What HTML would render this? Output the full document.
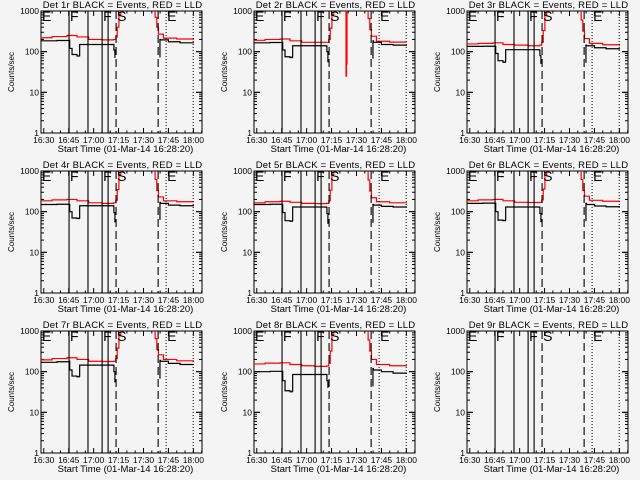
<!DOCTYPE html>
<html><head><meta charset="utf-8"><style>
html,body{margin:0;padding:0;background:#f4f4f4}
svg{display:block}
text{font-family:"Liberation Sans",sans-serif;fill:#000}
</style></head><body>
<svg id="c" width="640" height="480" viewBox="0 0 640 480"></svg>
<script>
// Time in minutes after 16:30
const xMin = -1.67, xMax = 95.2;
const tickLabels = ["16:30","16:45","17:00","17:15","17:30","17:45","18:00"];
const tickMinutes = [0,15,30,45,60,75,90];
const yTickValues = [1,10,100,1000];
const yTickLabels = ["1","10","100","1000"];
const solidLines = [15.2, 26.6, 35.1, 38.7];
const dashedLines = [43.5, 68.8];
const dottedLines = [73.6, 89.9];
const markerLetters = ["E","F","F","S","E"];
const markerTimes = [-1.67, 15.2, 35.1, 43.5, 73.6];
const detectorNames = ["1r","2r","3r","4r","5r","6r","7r","8r","9r"];

// Black (events) before shutter: times and values per detector
const blackTimesA = [-1.67, 8, 15.2, 15.6, 17, 20, 21.4, 21.6, 30, 41.8, 42.2, 42.8];
const blackA = [
 [185,188,190,120,85,78,80,150,150,150,110,70],
 [165,168,170,110,75,72,75,140,140,138,100,55],
 [135,136,135,90,60,55,58,112,112,110,80,50],
 [150,152,150,100,70,68,70,140,140,138,95,55],
 [150,152,150,95,60,58,60,130,130,128,90,50],
 [160,162,160,100,62,60,62,130,130,128,90,55],
 [170,175,180,110,78,75,78,145,145,143,100,55],
 [100,102,102,60,34,32,34,85,85,85,60,40],
 null
];
// Black after shutter
const blackTimesB = [69.6, 69.9, 70.2, 75, 82, 90];
const blackB = [
 [75,200,195,175,165,160],
 [70,185,170,150,145,140],
 [55,145,140,125,118,112],
 [65,170,160,145,140,135],
 [55,150,145,135,130,128],
 [60,160,150,138,132,130],
 [70,190,180,160,150,145],
 [45,120,110,100,92,88],
 null
];
// Red (LLD) series
const redTimes = [-1.67, 5, 14, 20, 27, 35, 42, 43.3, 44.2, 45.2, 46.3, 53.5, 53.7, 54.0, 54.3, 66, 67, 68, 69, 72, 80, 90];
const red = [
 [220,235,250,230,200,195,200,230,400,800,1500,1500,1500,1500,1500,1500,700,400,270,215,205,195],
 [190,200,205,185,170,170,170,200,380,800,1500,1500,25,50,1500,1500,650,350,240,180,172,170],
 [155,160,165,150,145,140,145,170,330,800,1500,1500,1500,1500,1500,1500,600,320,210,160,148,140],
 [185,195,200,185,165,160,165,190,350,800,1500,1500,1500,1500,1500,1500,620,330,230,185,175,170],
 [165,175,180,170,160,158,160,185,340,800,1500,1500,1500,1500,1500,1500,600,320,220,175,165,160],
 [185,195,200,185,170,168,170,195,360,800,1500,1500,1500,1500,1500,1500,620,330,240,190,180,175],
 [195,210,220,200,180,178,180,210,380,800,1500,1500,1500,1500,1500,1500,650,350,260,200,185,175],
 [155,162,165,150,140,135,138,160,320,800,1500,1500,1500,1500,1500,1500,600,320,200,150,140,135],
 null
];

const svg = document.getElementById('c');
const NS = "http://www.w3.org/2000/svg";
function mk(tag, attrs, parent){const e=document.createElementNS(NS,tag);for(const k in attrs)e.setAttribute(k,attrs[k]);(parent||svg).appendChild(e);return e;}

const colLeft = [41,254,467], rowTop = [11,171,331], W = 161, H = 122;

for (let p=0;p<9;p++){
  const L = colLeft[p%3], T = rowTop[Math.floor(p/3)];
  const xs = t => L + (t - xMin) / (xMax - xMin) * W;
  const ys = v => T + H - (Math.log10(v) / 3) * H;
  const g = mk('g',{});
  
  
  const cp = mk('clipPath',{id:'cp'+p}, g);
  mk('rect',{x:L,y:T,width:W,height:H},cp);

  const title = mk('text',{x:L+W/2+1,y:T-3,'font-size':9.5,'text-anchor':'middle','letter-spacing':0.2},g);
  title.textContent = 'Det '+detectorNames[p]+' BLACK = Events, RED = LLD';
  
  

  const box = mk('rect',{x:L,y:T,width:W,height:H,fill:'none',stroke:'#000','stroke-width':1},g);
  
  

  for (let m=0;m<=95;m+=5){
    const x = xs(m), len = (m%15===0)?5:2.5;
    mk('line',{x1:x,x2:x,y1:T+H,y2:T+H-len,stroke:'#000'},g);
    mk('line',{x1:x,x2:x,y1:T,y2:T+len,stroke:'#000'},g);
  }
  tickMinutes.forEach((m,i)=>{
    const t = mk('text',{x:xs(m),y:T+H+10,'font-size':8.5,'text-anchor':'middle'},g);
    t.textContent = tickLabels[i];
    
    
  });
  const xl = mk('text',{x:L+W/2+4,y:T+H+19,'font-size':9.5,'text-anchor':'middle'},g);
  xl.textContent = 'Start Time (01-Mar-14 16:28:20)';
  
  

  for (let d=0; d<3; d++){
    for (let k=1;k<=10;k++){
      const v = Math.pow(10,d)*k, y = ys(v), len = (k===1||k===10)?6:3;
      mk('line',{x1:L,x2:L+len,y1:y,y2:y,stroke:'#000'},g);
      mk('line',{x1:L+W,x2:L+W-len,y1:y,y2:y,stroke:'#000'},g);
    }
  }
  yTickValues.forEach((v,i)=>{
    const t = mk('text',{x:L-2,y:ys(v)+3,'font-size':8.5,'text-anchor':'end'},g);
    t.textContent = yTickLabels[i];
    
    
  });
  const yl = mk('text',{x:0,y:0,'font-size':8,'text-anchor':'middle',transform:`translate(${L-27},${T+H/2}) rotate(-90)`},g);
  yl.textContent = 'Counts/sec';
  
  

  const gc = mk('g',{'clip-path':`url(#cp${p})`},g);
  function poly(times, vals, color, name){
    let d='';
    for (let i=0;i<times.length;i++){
      const x=xs(times[i]), y=ys(vals[i]);
      if(i===0) d+=`M${x},${y}`; else d+=`H${x}V${y}`;
    }
    const pth = mk('path',{d:d,fill:'none',stroke:color,'stroke-width':1.2},gc);
    
    
  }
  if (red[p]) poly(redTimes, red[p], '#ff0000', 'lld-series');
  if (blackA[p]) poly(blackTimesA, blackA[p], '#000', 'events-series-pre');
  if (blackB[p]) poly(blackTimesB, blackB[p], '#000', 'events-series-post');

  solidLines.forEach(t=>{const l=mk('line',{x1:xs(t),x2:xs(t),y1:T,y2:T+H,stroke:'#000','stroke-width':1.1},g);
    });
  dashedLines.forEach(t=>{const l=mk('line',{x1:xs(t),x2:xs(t),y1:T,y2:T+H,stroke:'#000','stroke-width':1.1,'stroke-dasharray':'8,4'},g);
    });
  dottedLines.forEach(t=>{const l=mk('line',{x1:xs(t),x2:xs(t),y1:T,y2:T+H,stroke:'#000','stroke-width':1,'stroke-dasharray':'1,2'},g);
    });
  markerLetters.forEach((s,i)=>{
    const t = mk('text',{x:xs(markerTimes[i])+1,y:T+10,'font-size':14},g);
    t.textContent = s;
    
    
  });
}
</script>
</body></html>
